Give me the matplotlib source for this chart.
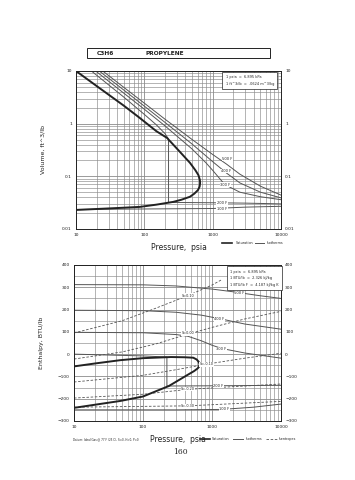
import matplotlib
matplotlib.use("Agg")
import matplotlib.pyplot as plt
from matplotlib.patches import Rectangle
from matplotlib.ticker import LogLocator, MultipleLocator, FixedLocator, NullFormatter

# ---------------- dados ----------------
# grafico de volume
sat_vap_P = [10, 20, 50, 86, 150, 215, 333, 466, 560, 620, 650]
sat_vap_v = [10, 5.2, 2.2, 1.28, 0.72, 0.536, 0.29, 0.18, 0.13, 0.105, 0.085]
sat_liq_P = [655, 645, 610, 540, 466, 350, 264, 150, 86, 40, 10]
sat_liq_v = [0.075, 0.064, 0.055, 0.047, 0.041, 0.036, 0.0327, 0.029, 0.0263, 0.025, 0.023]

iso_v_nomes = ["500 F", "400 F", "300 F", "200 F", "100 F"]
iso_v_P = [
    [24.6, 50, 100, 200, 500, 1000, 1600, 2500, 5000, 10000],
    [21.9, 50, 100, 200, 500, 1000, 1600, 2500, 5000, 10000],
    [19.4, 50, 100, 200, 500, 800, 1000, 1500, 2500, 5000, 10000],
    [16.8, 50, 100, 150, 200, 226, 226, 1000, 3000, 10000],
    [10, 100, 1000, 3000, 10000],
]
iso_v_v = [
    [10, 4.9, 2.45, 1.22, 0.5, 0.26, 0.17, 0.11, 0.065, 0.044],
    [10, 4.35, 2.15, 1.06, 0.41, 0.19, 0.115, 0.075, 0.05, 0.039],
    [10, 3.8, 1.88, 0.91, 0.33, 0.18, 0.13, 0.07, 0.05, 0.041, 0.036],
    [10, 3.2, 1.5, 0.95, 0.65, 0.51, 0.032, 0.0315, 0.031, 0.030],
    [0.0235, 0.024, 0.0245, 0.026, 0.027],
]
lab_v_P = [1630, 1570, 1520, 1370, 1370]
lab_v_v = [0.214, 0.126, 0.069, 0.0315, 0.0245]

# grafico de entalpia
sat_hv_P = [10, 20, 47, 100, 254, 400, 535, 600, 640, 660]
sat_hv_H = [-55, -42, -27, -18, -13, -14, -16, -24, -34, -45]
sat_hl_P = [655, 620, 550, 466, 237, 100, 47, 10]
sat_hl_H = [-55, -64, -76, -89, -143, -190, -210, -241]

iso_h_nomes = ["500 F", "400 F", "300 F", "200 F", "100 F"]
iso_h_P = [
    [10, 100, 300, 1000, 2000, 5000, 10000],
    [10, 100, 300, 700, 1400, 3000, 10000],
    [10, 100, 300, 450, 700, 1000, 1400, 3000, 10000],
    [10, 100, 222, 222, 1000, 3000, 10000],
    [10, 300, 1400, 4000, 10000],
]
iso_h_H = [
    [312, 311, 306, 292, 280, 262, 250],
    [197, 195, 188, 175, 157, 135, 112],
    [98, 96, 88, 80, 60, 40, 25, 5, -18],
    [0, -8, -13, -143, -142, -141, -140],
    [-250, -250, -248, -238, -224],
]
lab_h_P = [2500, 1280, 1370, 1240, 1520]
lab_h_H = [274, 156, 22, -141, -247]

isen_nomes = ["S=0.10", "S=0.00", "S=-0.10", "S=-0.20", "S=-0.30"]
isen_P = [
    [10, 50, 150, 450, 1000, 1400],
    [10, 50, 150, 450, 1000, 3000, 10000],
    [10, 100, 300, 830, 3000, 10000],
    [10, 100, 450, 2000, 10000],
    [10, 450, 10000],
]
isen_H = [
    [95, 150, 205, 263, 310, 335],
    [-22, 10, 45, 90, 120, 158, 192],
    [-125, -95, -70, -45, -18, 4],
    [-197, -180, -158, -146, -134],
    [-238, -232, -212],
]
lab_s_P = [450, 450, 830, 450, 450]
lab_s_H = [263, 94, -45, -156, -234]

# ---------------- figura ----------------
W, H = 355, 480
fig = plt.figure(figsize=(W / 100, H / 100), dpi=100)
fig.patch.set_facecolor("white")

cor = "#222222"
cor_fina = "#555555"
cor_grid = "#8a8a8a"
fs_tick = 3.2

# cabecalho
fig.patches.append(Rectangle((87 / W, 1 - 58 / H), 183 / W, 10 / H, transform=fig.transFigure,
                             fill=False, lw=0.7, ec=cor))
fig.text(97 / W, 1 - 53.5 / H, "C3H6", fontsize=4.2, fontweight="bold", va="center", color=cor)
fig.text(145 / W, 1 - 53.5 / H, "PROPYLENE", fontsize=4.2, fontweight="bold", va="center", color=cor)


def grelha_log_x(ax):
    ax.set_xscale("log")
    ax.set_xlim(10, 10000)
    ax.xaxis.set_major_locator(FixedLocator([10, 100, 1000, 10000]))
    ax.xaxis.set_minor_locator(LogLocator(base=10, subs=range(2, 10)))
    ax.xaxis.set_minor_formatter(NullFormatter())
    ax.set_xticklabels(["10", "100", "1000", "10000"])


def estilo(ax):
    ax.grid(True, which="major", color=cor_grid, lw=0.6)
    ax.grid(True, which="minor", color=cor_grid, lw=0.45)
    ax.tick_params(which="both", length=0, labelsize=fs_tick, colors=cor, pad=3,
                   labelright=True)
    for s in ax.spines.values():
        s.set_color(cor)
        s.set_linewidth(0.7)


# ---------- grafico 1: volume ----------
ax1 = fig.add_axes([76 / W, 1 - 229 / H, 205 / W, 158 / H])
grelha_log_x(ax1)
ax1.set_yscale("log")
ax1.set_ylim(0.01, 10)
ax1.yaxis.set_major_locator(FixedLocator([0.01, 0.1, 1, 10]))
ax1.set_yticklabels(["0.01", "0.1", "1", "10"])
ax1.yaxis.set_minor_locator(LogLocator(base=10, subs=range(2, 10)))
ax1.yaxis.set_minor_formatter(NullFormatter())
estilo(ax1)

for i in range(len(iso_v_nomes)):
    ax1.plot(iso_v_P[i], iso_v_v[i], color=cor_fina, lw=0.7)
    ax1.text(lab_v_P[i], lab_v_v[i], iso_v_nomes[i], fontsize=2.6, ha="center", va="center",
             color=cor, bbox=dict(fc="white", ec="none", pad=0.3))
ax1.plot(sat_vap_P + sat_liq_P, sat_vap_v + sat_liq_v, color=cor, lw=1.4, solid_capstyle="round")

ax1.set_ylabel("Volume, ft^3/lb", fontsize=4.5, color=cor, labelpad=12)
ax1.set_xlabel("Pressure,  psia", fontsize=5.5, color=cor, labelpad=4)
ax1.text(0.73, 0.94, "1 psia  =  6.895 kPa\n1 ft^3/lb  =  .0624 m^3/kg", transform=ax1.transAxes,
         fontsize=2.5, va="center", ha="left", color=cor, linespacing=1.8,
         bbox=dict(fc="white", ec=cor, lw=0.5, pad=2.5))

# legenda do grafico 1
yl = 1 - 243 / H
fig.add_artist(plt.Line2D([222 / W, 232 / W], [yl, yl], color=cor, lw=1.2))
fig.text(236 / W, yl, "Saturation", fontsize=2.4, va="center", color=cor)
fig.add_artist(plt.Line2D([255 / W, 264 / W], [yl, yl], color=cor_fina, lw=0.7))
fig.text(267 / W, yl, "Isotherms", fontsize=2.4, va="center", color=cor)

# ---------- grafico 2: entalpia ----------
ax2 = fig.add_axes([74 / W, 1 - 421 / H, 207 / W, 156 / H])
grelha_log_x(ax2)
ax2.set_ylim(-300, 400)
ax2.yaxis.set_major_locator(MultipleLocator(100))
ax2.yaxis.set_minor_locator(MultipleLocator(50))
estilo(ax2)

for i in range(len(isen_nomes)):
    ax2.plot(isen_P[i], isen_H[i], color=cor_fina, lw=0.6, ls=(0, (3, 2)))
    ax2.text(lab_s_P[i], lab_s_H[i], isen_nomes[i], fontsize=2.4, ha="center", va="center",
             color=cor, bbox=dict(fc="white", ec="none", pad=0.3))
for i in range(len(iso_h_nomes)):
    ax2.plot(iso_h_P[i], iso_h_H[i], color=cor_fina, lw=0.7)
    ax2.text(lab_h_P[i], lab_h_H[i], iso_h_nomes[i], fontsize=2.6, ha="center", va="center",
             color=cor, bbox=dict(fc="white", ec="none", pad=0.3))
ax2.plot(sat_hv_P + sat_hl_P, sat_hv_H + sat_hl_H, color=cor, lw=1.4, solid_capstyle="round")

ax2.set_ylabel("Enthalpy, BTU/lb", fontsize=4.5, color=cor, labelpad=10)
ax2.set_xlabel("Pressure,  psia", fontsize=5.5, color=cor, labelpad=4)
ax2.text(0.755, 0.915, "1 psia  =  6.895 kPa\n1 BTU/lb  =  2.326 kJ/kg\n1 BTU/lb F  =  4.187 kJ/kg K",
         transform=ax2.transAxes, fontsize=2.5, va="center", ha="left", color=cor, linespacing=1.8,
         bbox=dict(fc="white", ec=cor, lw=0.5, pad=2.5))

# legenda do grafico 2
yl = 1 - 439 / H
fig.add_artist(plt.Line2D([200 / W, 210 / W], [yl, yl], color=cor, lw=1.2))
fig.text(212 / W, yl, "Saturation", fontsize=2.4, va="center", color=cor)
fig.add_artist(plt.Line2D([233 / W, 243 / W], [yl, yl], color=cor_fina, lw=0.7))
fig.text(246 / W, yl, "Isotherms", fontsize=2.4, va="center", color=cor)
fig.add_artist(plt.Line2D([266 / W, 277 / W], [yl, yl], color=cor_fina, lw=0.6, ls=(0, (3, 2))))
fig.text(279 / W, yl, "Isentropes", fontsize=2.4, va="center", color=cor)

fig.text(73 / W, yl, "Datum: Ideal Gas @ 77 F (25 C), S=0, H=0, P=0", fontsize=2.0,
         va="center", color=cor)

# numero da pagina
fig.text(180 / W, 1 - 452 / H, "160", fontsize=5.5, family="DejaVu Serif", ha="center", va="center",
         color=cor)

fig.savefig("out.png", dpi=100)
